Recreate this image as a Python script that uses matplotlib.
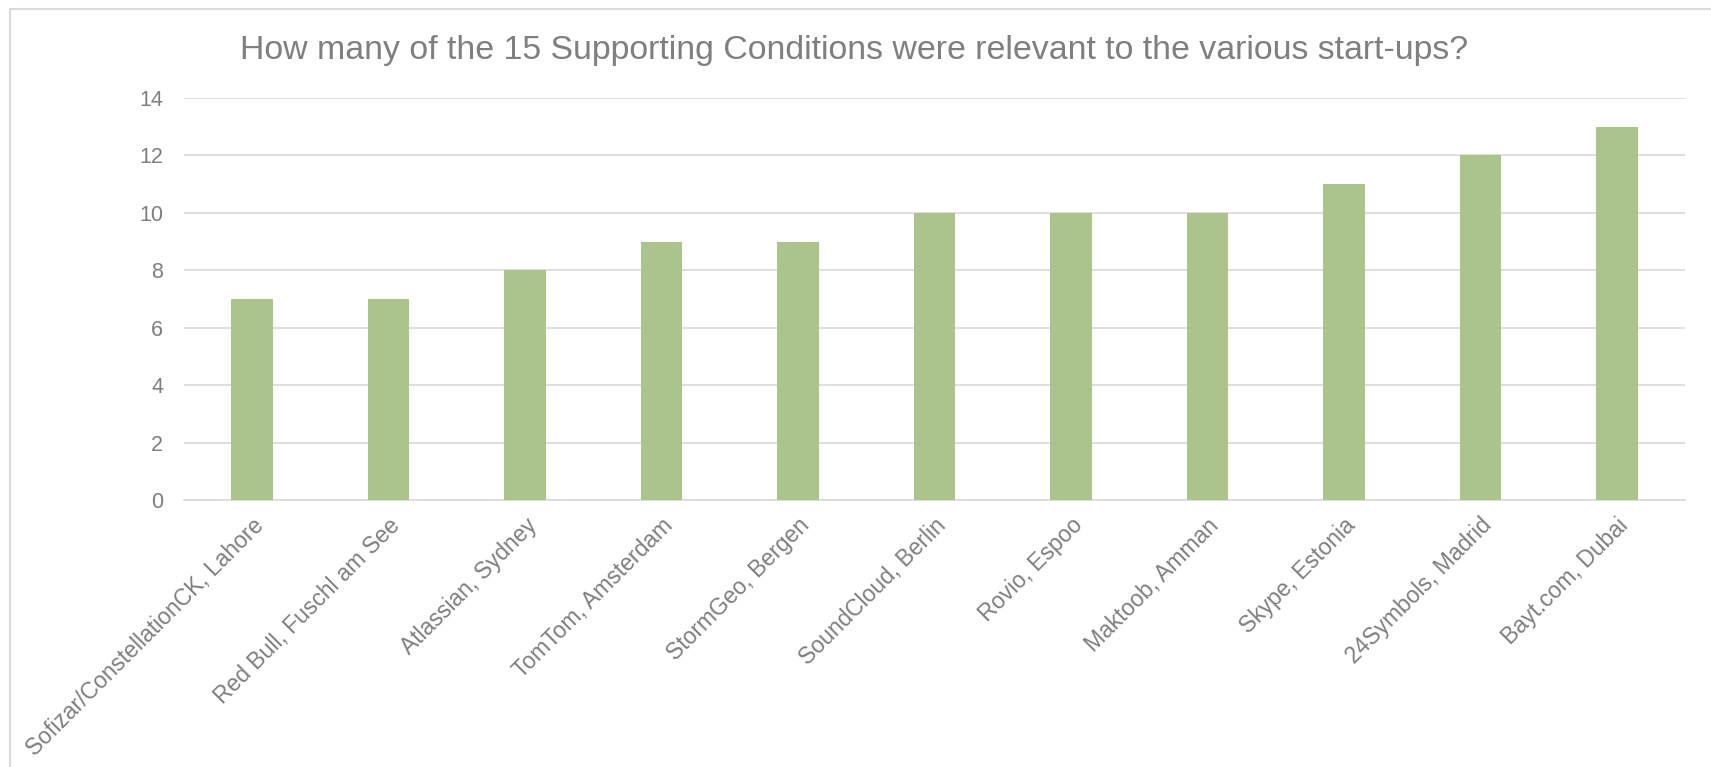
import numpy as np
import matplotlib.pyplot as plt
import matplotlib.transforms as mtransforms
from matplotlib.patches import Rectangle

plt.rcParams['font.family'] = ['Liberation Sans', 'DejaVu Sans']

startups = ['Sofizar/ConstellationCK, Lahore', 'Red Bull, Fuschl am See',
            'Atlassian, Sydney', 'TomTom, Amsterdam', 'StormGeo, Bergen',
            'SoundCloud, Berlin', 'Rovio, Espoo', 'Maktoob, Amman',
            'Skype, Estonia', '24Symbols, Madrid', 'Bayt.com, Dubai']
conditions = [7, 7, 8, 9, 9, 10, 10, 10, 11, 12, 13]
yticks = [0, 2, 4, 6, 8, 10, 12, 14]

W, H = 1711, 767
fig = plt.figure(figsize=(W / 100, H / 100), dpi=100)
ax = fig.add_axes([184 / W, 1 - 500 / H, (1685 - 184) / W, (500 - 98) / H])

grey = '#7f7f7f'
x = np.arange(len(startups))
ax.bar(x, conditions, width=0.304, color='#aac48b', zorder=3)

ax.set_xlim(-0.5, len(startups) - 0.5)
ax.set_ylim(0, 14)
ax.set_yticks(yticks)
ax.set_xticks(x)
ax.set_xticklabels(startups, rotation=45, ha='right', va='top',
                   rotation_mode='anchor', fontsize=16.5, color=grey)
shift = mtransforms.ScaledTranslation(0.12, 0, fig.dpi_scale_trans)
for lbl in ax.get_xticklabels():
    lbl.set_transform(lbl.get_transform() + shift)
ax.tick_params(axis='x', length=0, pad=10)
ax.tick_params(axis='y', length=0, pad=15, labelsize=15.5, labelcolor=grey)
ax.grid(axis='y', color='#d9d9d9', linewidth=1.2, zorder=0)
for s in ['top', 'right', 'left']:
    ax.spines[s].set_visible(False)
ax.spines['bottom'].set_color('#d9d9d9')
ax.spines['bottom'].set_linewidth(1.2)

fig.text(854 / W, 1 - 50 / H, 'How many of the 15 Supporting Conditions were relevant to the various start-ups?',
         ha='center', va='center', fontsize=24.4, color=grey)

# chart area border (only top and left edges are visible in the crop)
fig.patches.append(Rectangle((10 / W, -0.1), 1.2, 1 - 9 / H + 0.1, transform=fig.transFigure,
                             fill=False, edgecolor='#d9d9d9', linewidth=1.5))

fig.savefig('out.png', dpi=100)
